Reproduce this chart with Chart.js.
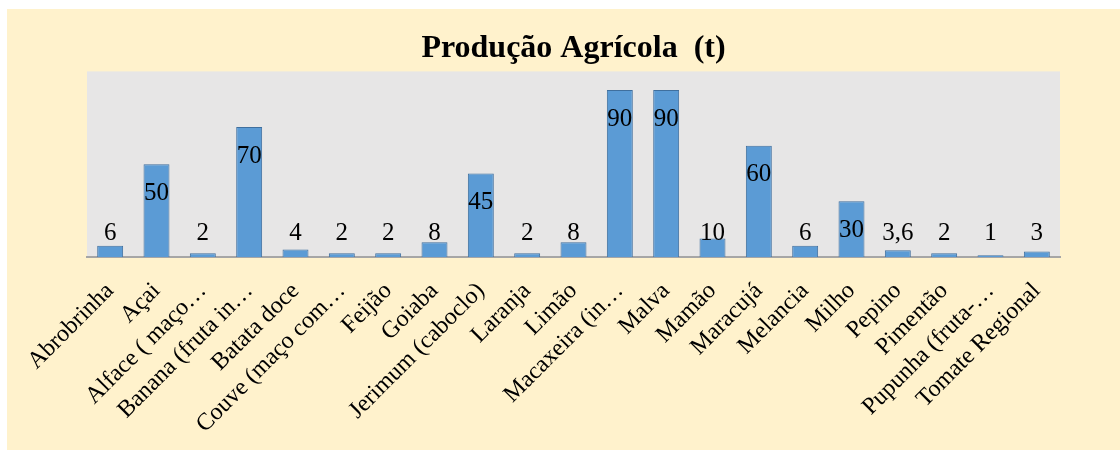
<!DOCTYPE html>
<html>
<head>
<meta charset="utf-8">
<script src="https://cdn.jsdelivr.net/npm/chart.js@4"></script>
<style>
  html, body { margin: 0; padding: 0; background: #ffffff; }
  #wrap { position: absolute; left: 7px; top: 9px; width: 1113px; height: 441px; background: #FFF2CC; }
</style>
</head>
<body>
<div id="wrap"><canvas id="myChart" width="1113" height="441"></canvas></div>
<script>
/** DADOS **/
const culturas = [
  'Abrobrinha', 'Açai', 'Alface ( maço…', 'Banana (fruta in…', 'Batata doce',
  'Couve (maço com…', 'Feijão', 'Goiaba', 'Jerimum (caboclo)', 'Laranja',
  'Limão', 'Macaxeira (in…', 'Malva', 'Mamão', 'Maracujá', 'Melancia',
  'Milho', 'Pepino', 'Pimentão', 'Pupunha (fruta-…', 'Tomate Regional'
];
const producao = [6, 50, 2, 70, 4, 2, 2, 8, 45, 2, 8, 90, 90, 10, 60, 6, 30, 3.6, 2, 1, 3];
const rotulos = ['6', '50', '2', '70', '4', '2', '2', '8', '45', '2', '8', '90', '90', '10', '60', '6', '30', '3,6', '2', '1', '3'];

const serif = '"Liberation Serif", "Times New Roman", serif';

/** fundo cinza da area de plotagem **/
const fundoPlot = {
  id: 'fundoPlot',
  beforeDraw(chart) {
    const a = chart.chartArea;
    const ctx = chart.ctx;
    ctx.save();
    ctx.fillStyle = '#E7E6E6';
    ctx.fillRect(a.left, a.top, a.right - a.left, a.bottom - a.top);
    ctx.restore();
  }
};

/** rotulos de dados **/
const rotulosDados = {
  id: 'rotulosDados',
  afterDatasetsDraw(chart) {
    const ctx = chart.ctx;
    const meta = chart.getDatasetMeta(0);
    const y = chart.scales.y;
    const base = y.getPixelForValue(0);
    ctx.save();
    ctx.font = '25px ' + serif;
    ctx.fillStyle = '#000000';
    ctx.textAlign = 'center';
    ctx.textBaseline = 'middle';
    meta.data.forEach(function (bar, i) {
      const cy = Math.min(bar.y + 29, base - 24);
      ctx.fillText(rotulos[i], bar.x, cy);
    });
    ctx.restore();
  }
};

const config = {
  type: 'bar',
  data: {
    labels: culturas,
    datasets: [{
      label: 'Produção Agrícola (t)',
      data: producao,
      backgroundColor: '#5B9BD5',
      borderColor: '#3F6F9E',
      borderWidth: 1,
      barPercentage: 0.56,
      categoryPercentage: 1
    }]
  },
  options: {
    responsive: false,
    animation: false,
    layout: { padding: { left: 80, right: 60, top: 0, bottom: 0 } },
    plugins: {
      legend: { display: false },
      tooltip: { enabled: false },
      title: {
        display: true,
        text: 'Produção Agrícola  (t)',
        color: '#000000',
        font: { family: serif, size: 32, weight: 'bold' },
        padding: { top: 21, bottom: 3 }
      }
    },
    scales: {
      x: {
        grid: { display: false },
        border: { display: true, color: '#A6A6A6', width: 2 },
        ticks: {
          color: '#000000',
          font: { family: serif, size: 24 },
          autoSkip: false,
          minRotation: 45,
          maxRotation: 45,
          padding: 12
        },
        afterFit(scale) { scale.height = 193; }
      },
      y: {
        display: false,
        min: 0,
        max: 100
      }
    }
  },
  plugins: [fundoPlot, rotulosDados]
};

var myChart = new Chart(document.getElementById('myChart'), config);
</script>
</body>
</html>
